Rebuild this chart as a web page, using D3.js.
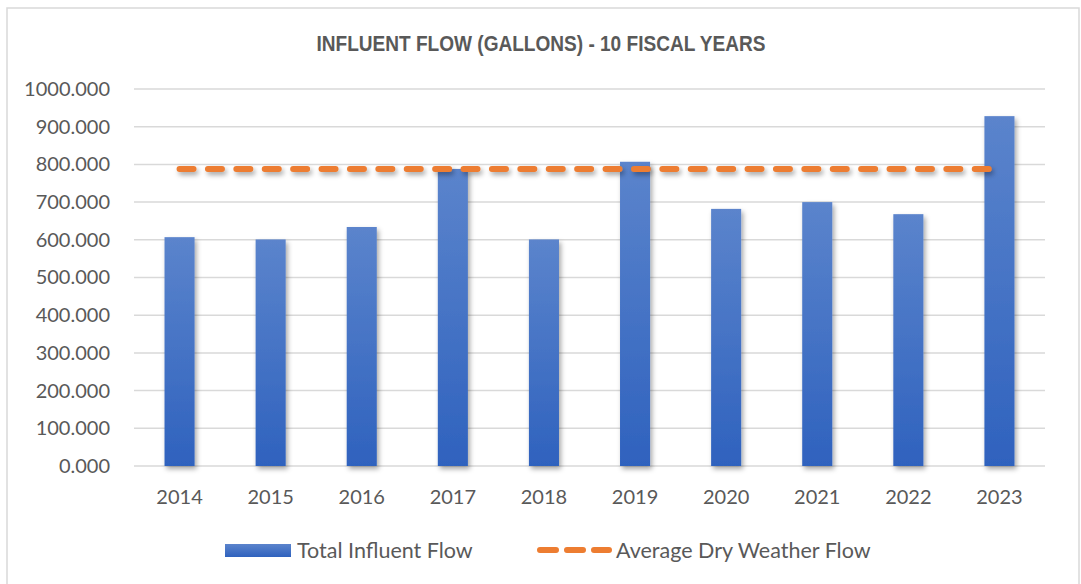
<!DOCTYPE html>
<html>
<head>
<meta charset="utf-8">
<script src="https://cdn.jsdelivr.net/npm/d3@7"></script>
<style>
  body { margin: 0; background: #fff; }
  text { font-family: Lato, "Open Sans", sans-serif; fill: #595959; }
</style>
</head>
<body>
<script>
const years = ["2014", "2015", "2016", "2017", "2018", "2019", "2020", "2021", "2022", "2023"];
const totalFlow = [607, 601, 634, 788, 601, 807, 682, 700, 668, 928];
const dryWeatherFlow = [788, 788, 788, 788, 788, 788, 788, 788, 788, 788];
const yTicks = [0, 100, 200, 300, 400, 500, 600, 700, 800, 900, 1000];

const width = 1081, height = 584;
const plot = {left: 134, right: 1045, top: 89, bottom: 466};

const svg = d3.select("body").append("svg")
    .attr("width", width)
    .attr("height", height);

const defs = svg.append("defs");
const grad = defs.append("linearGradient")
    .attr("id", "barGrad")
    .attr("x1", 0).attr("y1", 0).attr("x2", 0).attr("y2", 1);
grad.append("stop").attr("offset", "0%").attr("stop-color", "#5b84cc");
grad.append("stop").attr("offset", "100%").attr("stop-color", "#2f62be");

// user space region so the flat line keeps its shadow
const shadow = defs.append("filter")
    .attr("id", "shadow")
    .attr("filterUnits", "userSpaceOnUse")
    .attr("x", 0).attr("y", 0)
    .attr("width", width).attr("height", height);
shadow.append("feDropShadow")
    .attr("dx", 2).attr("dy", 3)
    .attr("stdDeviation", 2.5)
    .attr("flood-color", "#000")
    .attr("flood-opacity", 0.35);

// chart frame
svg.append("rect")
    .attr("x", 7).attr("y", 8)
    .attr("width", width - 9).attr("height", height - 6)
    .attr("fill", "none")
    .attr("stroke", "#d9d9d9")
    .attr("stroke-width", 1.5);

const x = d3.scaleBand()
    .domain(years)
    .range([plot.left, plot.right])
    .paddingInner(0.67)
    .paddingOuter(0.335);

const y = d3.scaleLinear()
    .domain([0, 1000])
    .range([plot.bottom, plot.top]);

// gridlines
svg.append("g")
  .selectAll("line")
  .data(yTicks)
  .enter().append("line")
    .attr("x1", plot.left)
    .attr("x2", plot.right)
    .attr("y1", d => y(d))
    .attr("y2", d => y(d))
    .attr("stroke", "#d9d9d9")
    .attr("stroke-width", 1.5);

// y axis labels
const yAxis = svg.append("g")
    .attr("transform", `translate(${plot.left - 24},0)`)
    .call(d3.axisLeft(y).tickValues(yTicks).tickFormat(d3.format(".3f")).tickSize(0).tickPadding(0));
yAxis.select(".domain").remove();
yAxis.selectAll("text")
    .style("font-size", "20px")
    .attr("fill", "#595959");

// x axis labels
const xAxis = svg.append("g")
    .attr("transform", `translate(0,${plot.bottom + 24})`)
    .call(d3.axisBottom(x).tickSize(0).tickPadding(0));
xAxis.select(".domain").remove();
xAxis.selectAll("text")
    .style("font-size", "20px")
    .attr("fill", "#595959");

// bars
svg.append("g")
  .selectAll("rect")
  .data(years)
  .enter().append("rect")
    .attr("x", d => x(d))
    .attr("width", x.bandwidth())
    .attr("y", (d, i) => y(totalFlow[i]))
    .attr("height", (d, i) => y(0) - y(totalFlow[i]))
    .attr("fill", "url(#barGrad)")
    .attr("filter", "url(#shadow)");

// dry weather line
const line = d3.line()
    .x((d, i) => x(years[i]) + x.bandwidth() / 2)
    .y(d => y(d));

svg.append("path")
    .datum(dryWeatherFlow)
    .attr("d", line)
    .attr("fill", "none")
    .attr("stroke", "#ed7d31")
    .attr("stroke-width", 6)
    .attr("stroke-linecap", "round")
    .attr("stroke-dasharray", "14,14.4")
    .attr("filter", "url(#shadow)");

// title (squeezed to look condensed)
svg.append("text")
    .attr("x", 541)
    .attr("y", 51)
    .attr("text-anchor", "middle")
    .attr("textLength", 449)
    .attr("lengthAdjust", "spacingAndGlyphs")
    .style("font-family", "'Liberation Sans', Arial, sans-serif")
    .style("font-weight", "bold")
    .style("font-size", "22px")
    .text("INFLUENT FLOW (GALLONS) - 10 FISCAL YEARS");

// legend
const legend = svg.append("g");
legend.append("rect")
    .attr("x", 225).attr("y", 544)
    .attr("width", 66).attr("height", 13)
    .attr("fill", "url(#barGrad)");
legend.append("text")
    .attr("x", 297).attr("y", 558)
    .style("font-size", "21.5px")
    .text("Total Influent Flow");
legend.append("line")
    .attr("x1", 540).attr("x2", 609)
    .attr("y1", 550).attr("y2", 550)
    .attr("stroke", "#ed7d31")
    .attr("stroke-width", 6)
    .attr("stroke-linecap", "round")
    .attr("stroke-dasharray", "16,11");
legend.append("text")
    .attr("x", 616).attr("y", 558)
    .style("font-size", "21.5px")
    .text("Average Dry Weather Flow");
</script>
</body>
</html>
